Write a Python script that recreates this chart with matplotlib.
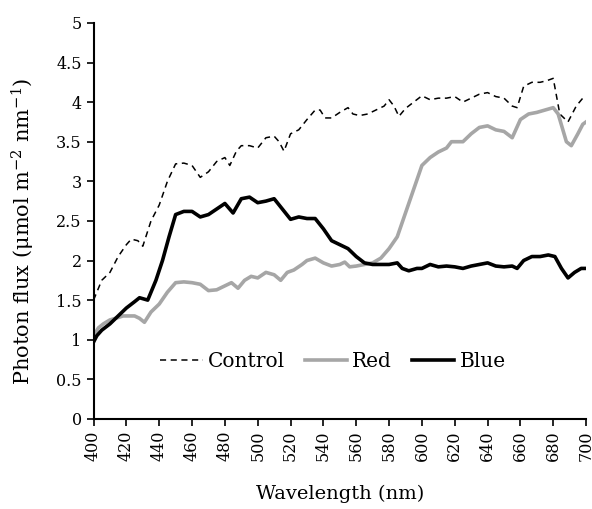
import numpy as np
import matplotlib
matplotlib.use('Agg')
import matplotlib.pyplot as plt

plt.rcParams['font.family'] = ['DejaVu Serif']
plt.rcParams['mathtext.fontset'] = 'dejavuserif'

# Control (dashed)
wl_control = [400, 405, 410, 415, 420, 423, 427, 430, 435, 440, 445, 450, 455, 460, 465, 470,
              475, 480, 483, 487, 490, 495, 500, 505, 510, 513, 516, 520, 525, 530, 535, 538,
              541, 545, 550, 555, 558, 562, 567, 572, 577, 580, 583, 586, 590, 595, 600, 605,
              610, 615, 620, 625, 630, 635, 640, 645, 650, 655, 658, 662, 667, 672, 676, 680,
              684, 689, 694, 698, 700]
control = [1.5, 1.75, 1.85, 2.05, 2.2, 2.27, 2.25, 2.18, 2.5, 2.7, 3.0, 3.22, 3.23, 3.2, 3.05, 3.12,
           3.25, 3.3, 3.2, 3.38, 3.45, 3.45, 3.42, 3.55, 3.57, 3.5, 3.38, 3.6, 3.65, 3.78, 3.9, 3.9,
           3.8, 3.8, 3.87, 3.93, 3.85, 3.83, 3.85, 3.9, 3.95, 4.03, 3.95, 3.82, 3.92, 4.0, 4.08, 4.03,
           4.05, 4.05, 4.07, 4.0, 4.05, 4.1, 4.12, 4.07, 4.05, 3.95, 3.93, 4.2, 4.25, 4.25, 4.27, 4.3,
           3.85, 3.75, 3.95, 4.05, 4.05]

# Red (grey)
wl_red = [400, 403, 406, 410, 415, 418, 422, 425, 428, 431, 435, 440, 445, 450, 455, 460, 465,
          470, 475, 480, 484, 488, 492, 496, 500, 505, 510, 514, 518, 522, 527, 530, 535, 540,
          545, 550, 553, 556, 560, 565, 570, 575, 580, 585, 590, 595, 600, 605, 610, 615, 618,
          622, 625, 630, 635, 640, 645, 650, 655, 660, 665, 670, 675, 680, 683, 688, 691, 695,
          698, 700]
red = [1.05, 1.15, 1.2, 1.25, 1.28, 1.3, 1.3, 1.3, 1.27, 1.22, 1.35, 1.45, 1.6, 1.72, 1.73, 1.72, 1.7,
       1.62, 1.63, 1.68, 1.72, 1.65, 1.75, 1.8, 1.78, 1.85, 1.82, 1.75, 1.85, 1.88, 1.95, 2.0, 2.03, 1.97,
       1.93, 1.95, 1.98, 1.92, 1.93, 1.95, 1.97, 2.03, 2.15, 2.3, 2.6, 2.9, 3.2, 3.3, 3.37, 3.42, 3.5,
       3.5, 3.5, 3.6, 3.68, 3.7, 3.65, 3.63, 3.55, 3.78, 3.85, 3.87, 3.9, 3.93, 3.85, 3.5, 3.45, 3.6,
       3.72, 3.75]

# Blue (black)
wl_blue = [400, 402, 405, 410, 415, 420, 425, 428, 433, 438, 442, 446, 450, 455, 460, 465, 470,
           475, 480, 485, 490, 495, 500, 505, 510, 515, 520, 525, 530, 535, 540, 545, 550, 555,
           560, 565, 570, 575, 580, 585, 588, 592, 597, 600, 605, 610, 615, 620, 625, 630, 635,
           640, 645, 650, 655, 658, 662, 667, 672, 677, 681, 685, 689, 693, 697, 700]
blue = [0.97, 1.05, 1.12, 1.2, 1.3, 1.4, 1.48, 1.53, 1.5, 1.75, 2.0, 2.3, 2.58, 2.62, 2.62, 2.55, 2.58,
        2.65, 2.72, 2.6, 2.78, 2.8, 2.73, 2.75, 2.78, 2.65, 2.52, 2.55, 2.53, 2.53, 2.4, 2.25, 2.2, 2.15,
        2.05, 1.97, 1.95, 1.95, 1.95, 1.97, 1.9, 1.87, 1.9, 1.9, 1.95, 1.92, 1.93, 1.92, 1.9, 1.93, 1.95,
        1.97, 1.93, 1.92, 1.93, 1.9, 2.0, 2.05, 2.05, 2.07, 2.05, 1.9, 1.78, 1.85, 1.9, 1.9]

xticks = list(range(400, 701, 20))
yticks = [0, 0.5, 1, 1.5, 2, 2.5, 3, 3.5, 4, 4.5, 5]
ytick_labels = ['0', '0.5', '1', '1.5', '2', '2.5', '3', '3.5', '4', '4.5', '5']

fig = plt.figure(figsize=(5.92, 5.09), dpi=100)
ax = fig.add_axes([0.158, 0.177, 0.832, 0.778])

ax.plot(wl_control, control, color='black', lw=1.1, ls=(0, (4, 3)), label='Control')
ax.plot(wl_red, red, color='#a6a6a6', lw=2.6, label='Red')
ax.plot(wl_blue, blue, color='black', lw=2.6, label='Blue')

ax.set_xlim(400, 700)
ax.set_ylim(0, 5)
ax.set_xticks(xticks)
ax.set_xticklabels([str(t) for t in xticks], rotation=90)
ax.set_yticks(yticks)
ax.set_yticklabels(ytick_labels)
ax.tick_params(axis='both', direction='out', length=5, width=1.2, labelsize=11.5)

for s in ['top', 'right']:
    ax.spines[s].set_visible(False)
for s in ['left', 'bottom']:
    ax.spines[s].set_linewidth(1.5)

ax.set_xlabel('Wavelength (nm)', fontsize=14, labelpad=17)
ax.set_ylabel(r'Photon flux (μmol m$^{-2}$ nm$^{-1}$)', fontsize=15)
ax.yaxis.set_label_coords(-0.114, 0.475)

ax.legend(loc='center', bbox_to_anchor=(0.486, 0.144), ncol=3, frameon=False, fontsize=14.5,
          handlelength=2.1, columnspacing=1.0, handletextpad=0.25)

fig.savefig('out.png', dpi=100)
